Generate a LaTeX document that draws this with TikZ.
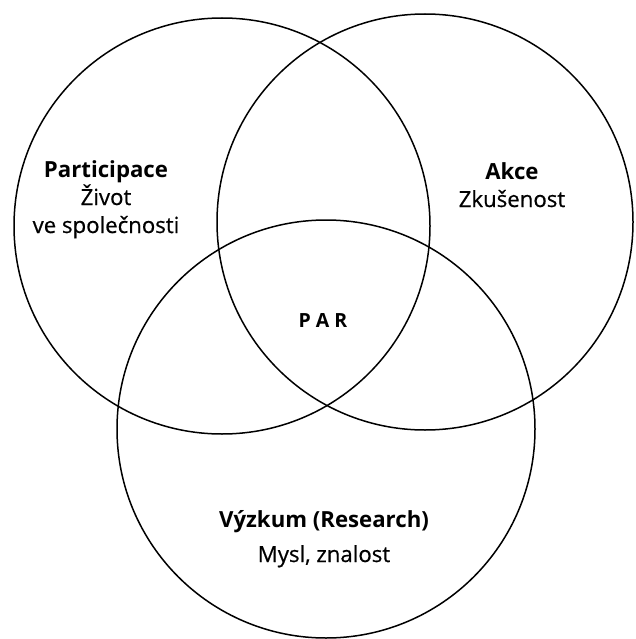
\documentclass[tikz,border=0pt]{standalone}
\usepackage{fontspec}
\setmainfont{Open Sans}
\newfontface\semifont{Open Sans}[FakeBold=0.6]
\begin{document}
\begin{tikzpicture}[x=1pt,y=-1pt,
  ring/.style={draw=black,line width=1.5pt},
  lbl/.style={align=center,font=\fontsize{22.2}{28}\selectfont,inner sep=0pt}]
\useasboundingbox (0,0) rectangle (635,639);
\node[ring,circle,minimum size=416pt,inner sep=0pt] (L) at (222,226) {};
\node[ring,circle,minimum size=416pt,inner sep=0pt] (R) at (425,222) {};
\node[ring,circle,minimum size=418pt,inner sep=0pt] (B) at (326,429) {};
\node[lbl,anchor=base] (p1) at (106,233) {\textbf{Participace}\\{\semifont Život}\\{\semifont ve společnosti}};
\node[lbl,anchor=base] (a1) at (512,207) {\textbf{Akce}\\{\semifont Zkušenost}};
\node[lbl,anchor=base,font=\fontsize{22.2}{35}\selectfont] (v1) at (324,562) {\textbf{Výzkum (Research)}\\{\semifont Mysl, znalost}};
\node[lbl,anchor=base,font=\fontsize{19.5}{24}\selectfont\bfseries] (par) at (323,327) {P\hspace{5pt}A\hspace{5pt}R};
\end{tikzpicture}
\end{document}
